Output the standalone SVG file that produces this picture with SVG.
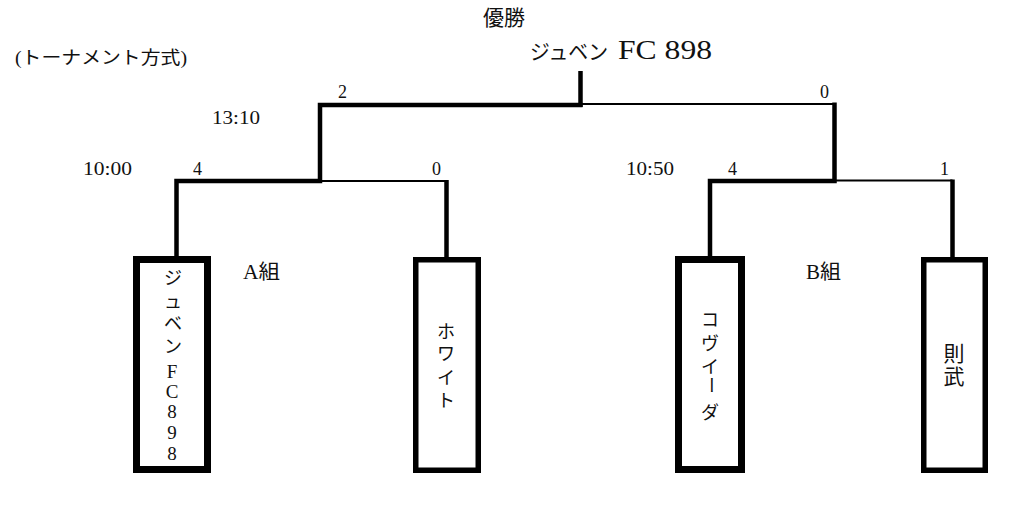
<svg xmlns="http://www.w3.org/2000/svg" width="1013" height="528" viewBox="0 0 1013 528">
<style>
  text { font-family: "Liberation Serif", "Noto Sans CJK JP", serif; fill: #111; }
  .num { font-size: 18px; }
  .box { fill: #fff; stroke: #000; }
  .b7 { stroke-width: 7; }
  .b5 { stroke-width: 5.5; }
  .thick { fill: none; stroke: #000; stroke-width: 4.5; stroke-linejoin: miter; }
  .thin { fill: none; stroke: #000; stroke-width: 2; }
  .v { font-size: 18px; text-anchor: middle; }
  .vl { font-size: 19px; text-anchor: middle; }
</style>
<rect width="1013" height="528" fill="#fff"/>

<g id="title">
  <text x="15" y="64" font-size="18" textLength="172" lengthAdjust="spacingAndGlyphs">(トーナメント方式)</text>
  <text x="483" y="25" font-size="21">優勝</text>
  <text x="530" y="59" font-size="21" textLength="78" lengthAdjust="spacingAndGlyphs">ジュベン</text>
  <text x="618" y="59" font-size="27" textLength="94" lengthAdjust="spacingAndGlyphs">FC 898</text>
</g>

<g id="connectors">
  <path class="thick" d="M176.5 258 V181 H320 V105 H582.5"/>
  <path class="thick" d="M580.5 71 V107"/>
  <path class="thin" d="M320 181 H446.5"/>
  <path class="thick" d="M446.5 180 V258"/>
  <path class="thin" d="M580.5 104 H834.5"/>
  <path class="thick" d="M834.5 102.5 V181 H710 V258"/>
  <path class="thin" d="M834.5 180.5 H952.5"/>
  <path class="thick" d="M952.5 179.5 V258"/>
</g>

<g id="scores">
  <text class="num" x="338" y="98">2</text>
  <text class="num" x="212" y="124" textLength="48" lengthAdjust="spacingAndGlyphs">13:10</text>
  <text class="num" x="83" y="175" textLength="49" lengthAdjust="spacingAndGlyphs">10:00</text>
  <text class="num" x="193" y="175">4</text>
  <text class="num" x="432" y="175">0</text>
  <text class="num" x="820" y="98">0</text>
  <text class="num" x="626" y="175" textLength="48" lengthAdjust="spacingAndGlyphs">10:50</text>
  <text class="num" x="728" y="175">4</text>
  <text class="num" x="940" y="175">1</text>
</g>

<g id="groupA">
  <text x="243" y="279" font-size="20" textLength="37" lengthAdjust="spacingAndGlyphs">A組</text>
</g>
<g id="groupB">
  <text x="806" y="279" font-size="20" textLength="35" lengthAdjust="spacingAndGlyphs">B組</text>
</g>

<g id="team-juven">
  <rect class="box b7" x="136.5" y="259.5" width="71" height="210"/>
  <text class="v" x="173" y="284">ジ</text>
  <text class="v" x="173" y="308">ュ</text>
  <text class="v" x="173" y="330">ベ</text>
  <text class="v" x="173" y="353">ン</text>
  <text class="vl" x="172" y="378">F</text>
  <text class="vl" x="172" y="398">C</text>
  <text class="vl" x="172" y="418">8</text>
  <text class="vl" x="172" y="439">9</text>
  <text class="vl" x="172" y="460">8</text>
</g>

<g id="team-white">
  <rect class="box b5" x="415.75" y="259.75" width="62.5" height="210.5"/>
  <text class="v" x="446" y="338">ホ</text>
  <text class="v" x="446" y="360">ワ</text>
  <text class="v" x="446" y="384">イ</text>
  <text class="v" x="446" y="407">ト</text>
</g>

<g id="team-coviida">
  <rect class="box b7" x="678.5" y="259.5" width="63" height="210"/>
  <text class="v" x="710" y="326">コ</text>
  <text class="v" x="710" y="350">ヴ</text>
  <text class="v" x="710" y="373">イ</text>
  <text x="710" y="376" font-size="18" writing-mode="vertical-rl" style="writing-mode:vertical-rl">ー</text>
  <text class="v" x="710" y="419">ダ</text>
</g>

<g id="team-noritake">
  <rect class="box b5" x="923.75" y="259.75" width="61.5" height="210.5"/>
  <text x="954" y="361" font-size="21" text-anchor="middle">則</text>
  <text x="954" y="384" font-size="21" text-anchor="middle">武</text>
</g>
</svg>
